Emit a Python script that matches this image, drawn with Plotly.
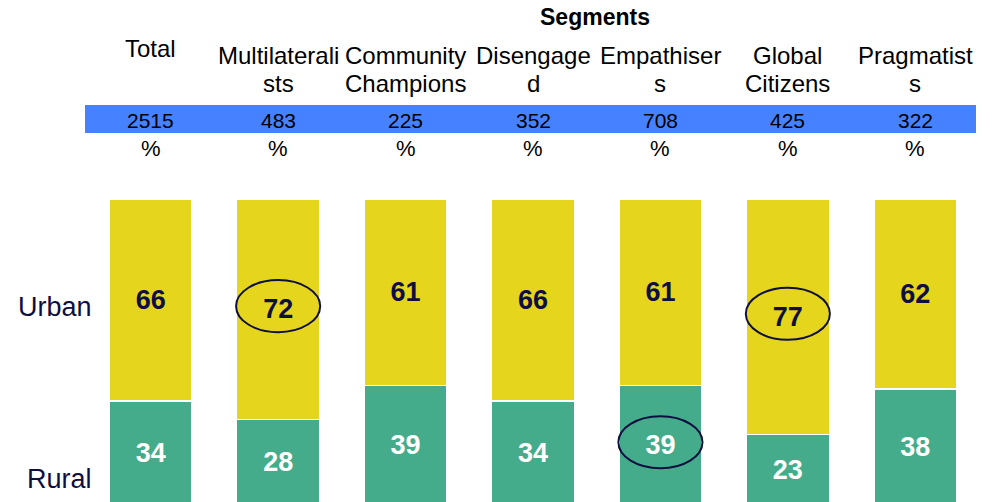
import plotly.graph_objects as go

# Segment data
categories = ["Total", "Multilateralists", "Community Champions", "Disengaged",
              "Empathisers", "Global Citizens", "Pragmatists"]
header_lines = [["Total"], ["Multilaterali", "sts"], ["Community", "Champions"],
                ["Disengage", "d"], ["Empathiser", "s"], ["Global", "Citizens"],
                ["Pragmatist", "s"]]
base_sizes = [2515, 483, 225, 352, 708, 425, 322]
rural = [34, 28, 39, 34, 39, 23, 38]
urban = [66, 72, 61, 66, 61, 77, 62]

# Highlighted cells: (category index, series)
highlights = [(1, "Urban"), (5, "Urban"), (4, "Rural")]

YELLOW = "#E5D51C"
GREEN = "#45AC8B"
BLUE = "#4681FF"
NAVY = "#0E0E40"
FONT = "Liberation Sans, Arial, sans-serif"

W, H = 997, 502
ML, MR, MT, MB = 87, 18, 199, 0
PW = W - ML - MR
PH = H - MT - MB


def py(p):
    """pixel row -> paper y"""
    return (H - MB - p) / PH


def px(p):
    """pixel column -> paper x"""
    return (p - ML) / PW


x_idx = list(range(len(categories)))

fig = go.Figure()
fig.add_trace(go.Bar(
    x=x_idx, y=rural, name="Rural", marker=dict(color=GREEN, line=dict(color="white", width=1.5)),
    text=[str(v) for v in rural], textposition="inside", insidetextanchor="middle",
    textfont=dict(family=FONT, size=27, color="white", weight="bold"),
    hoverinfo="skip",
))
fig.add_trace(go.Bar(
    x=x_idx, y=urban, name="Urban", marker=dict(color=YELLOW, line=dict(color="white", width=1.5)),
    text=[str(v) for v in urban], textposition="inside", insidetextanchor="middle",
    textfont=dict(family=FONT, size=27, color=NAVY, weight="bold"),
    hoverinfo="skip",
))

annotations = []
shapes = []

# Base-size band
shapes.append(dict(type="rect", xref="paper", yref="paper",
                   x0=px(85), x1=px(976), y0=py(133), y1=py(105),
                   fillcolor=BLUE, line=dict(width=0), layer="below"))

annotations.append(dict(text="<b>Segments</b>", xref="paper", yref="paper",
                        x=px(595), y=py(17), showarrow=False, yanchor="middle",
                        font=dict(family=FONT, size=23, color="black")))

for i, (lines, n) in enumerate(zip(header_lines, base_sizes)):
    rows = [48] if len(lines) == 1 else [55, 83]
    for txt, row in zip(lines, rows):
        annotations.append(dict(text=txt, xref="x", yref="paper", x=i, y=py(row),
                                showarrow=False, yanchor="middle",
                                font=dict(family=FONT, size=24, color="black")))
    annotations.append(dict(text=str(n), xref="x", yref="paper", x=i, y=py(120),
                            showarrow=False, yanchor="middle",
                            font=dict(family=FONT, size=21, color="black")))
    annotations.append(dict(text="%", xref="x", yref="paper", x=i, y=py(148),
                            showarrow=False, yanchor="middle",
                            font=dict(family=FONT, size=22, color="black")))

annotations.append(dict(text="Urban", xref="paper", yref="paper", x=px(94), y=py(307),
                        xanchor="right", yanchor="middle", showarrow=False,
                        font=dict(family=FONT, size=27, color=NAVY)))
annotations.append(dict(text="Rural", xref="paper", yref="paper", x=px(94), y=py(479),
                        xanchor="right", yanchor="middle", showarrow=False,
                        font=dict(family=FONT, size=27, color=NAVY)))

# Ellipses around highlighted values
for i, series in highlights:
    if series == "Urban":
        mid = rural[i] + urban[i] / 2
    else:
        mid = rural[i] / 2
    cy = mid + 1
    shapes.append(dict(type="circle", xref="x", yref="y",
                       x0=i - 0.33, x1=i + 0.33, y0=cy - 8.5, y1=cy + 8.5,
                       line=dict(color=NAVY, width=2), fillcolor="rgba(0,0,0,0)"))

fig.update_layout(
    width=W, height=H,
    margin=dict(l=ML, r=MR, t=MT, b=MB),
    barmode="stack", bargap=0.35,
    showlegend=False,
    plot_bgcolor="white", paper_bgcolor="white",
    xaxis=dict(range=[-0.5, 6.5], visible=False),
    yaxis=dict(range=[1, 100], visible=False),
    annotations=annotations, shapes=shapes,
    uniformtext=dict(mode=False),
)

fig.write_html("out.html")
